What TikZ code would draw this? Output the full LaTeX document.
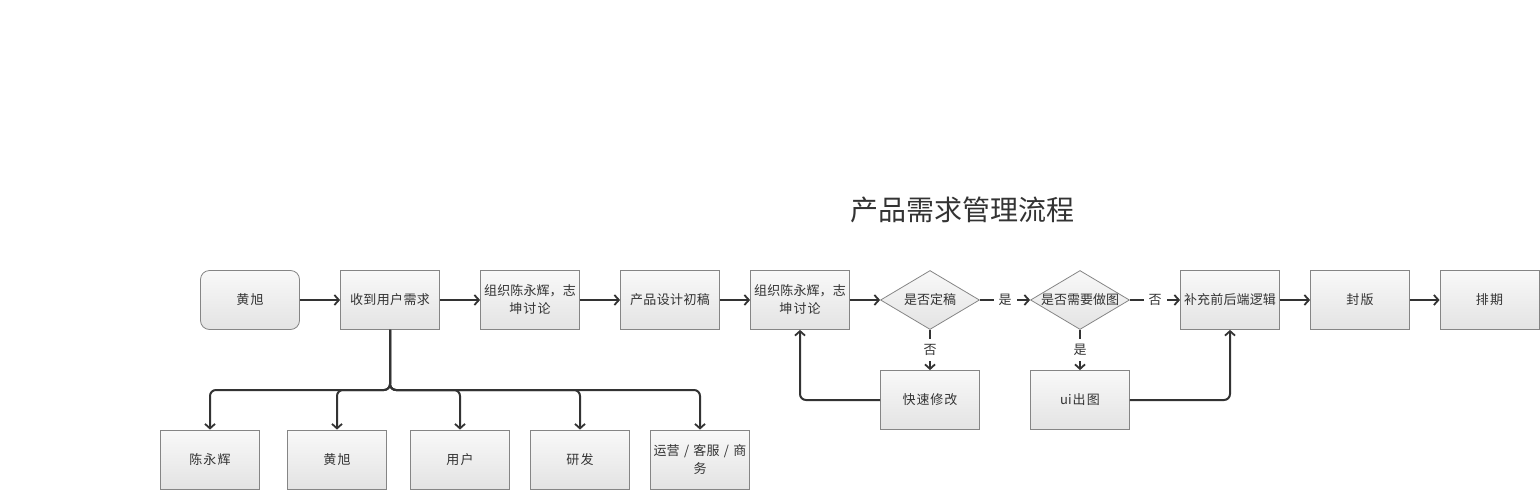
\documentclass[tikz,border=0pt]{standalone}
\usepackage{fontspec}
\setmainfont{Noto Sans CJK SC}
\XeTeXlinebreaklocale "zh"
\XeTeXlinebreakskip=0pt plus 1pt
\usetikzlibrary{arrows.meta,shapes.geometric}
\definecolor{txt}{HTML}{333333}
\definecolor{bord}{HTML}{858585}
\definecolor{ln}{HTML}{333333}
\tikzset{
  boxbase/.style={draw=bord, line width=0.8pt, top color=gray!5, bottom color=gray!22,
    minimum width=99pt, minimum height=59pt, inner sep=0pt, text width=99pt, align=center,
    font=\fontsize{13}{18}\selectfont, text=txt},
  stepbox/.style={boxbase, rectangle},
  roundbox/.style={boxbase, rectangle, rounded corners=9pt},
  dia/.style={draw=bord, line width=0.8pt, top color=gray!5, bottom color=gray!22,
    shape=diamond, aspect=1.6667, minimum width=99pt, minimum height=59pt, inner sep=0pt},
  dlabel/.style={font=\fontsize{13}{17}\selectfont, text=txt, inner sep=0pt},
  conn/.style={draw=ln, line width=2pt, -{Straight Barb[length=4.5pt,width=10pt,line width=1.8pt]}},
  elab/.style={fill=white, font=\fontsize{13}{17}\selectfont, text=txt, inner sep=5pt}
}
\begin{document}
\begin{tikzpicture}[x=1pt,y=-1pt]
\useasboundingbox (0,0) rectangle (1540,490);
\node[font=\fontsize{28}{32}\selectfont, text=txt] (title) at (962,210) {产品需求管理流程};
\node[roundbox] (hx) at (250,300) {黄旭};
\node[stepbox] (recv) at (390,300) {收到用户需求};
\node[stepbox] (org1) at (530,300) {组织陈永辉，志\\坤讨论};
\node[stepbox] (draft) at (670,300) {产品设计初稿};
\node[stepbox] (org2) at (800,300) {组织陈永辉，志\\坤讨论};
\node[dia, label={[dlabel]center:是否定稿}] (d1) at (930,300) {};
\node[dia, label={[dlabel]center:是否需要做图}] (d2) at (1080,300) {};
\node[stepbox] (logic) at (1230,300) {补充前后端逻辑};
\node[stepbox] (seal) at (1360,300) {封版};
\node[stepbox] (sched) at (1489.5,300) {排期};
\node[stepbox] (quick) at (930,400) {快速修改};
\node[stepbox] (ui) at (1080,400) {ui出图};
\node[stepbox] (c1) at (210,459.5) {陈永辉};
\node[stepbox] (c2) at (337,459.5) {黄旭};
\node[stepbox] (c3) at (460,459.5) {用户};
\node[stepbox] (c4) at (580,459.5) {研发};
\node[stepbox] (c5) at (700,459.5) {运营 / 客服 / 商\\务};
\coordinate (jn) at (390,390);

\draw[conn] (hx) -- (recv);
\draw[conn] (recv) -- (org1);
\draw[conn] (org1) -- (draft);
\draw[conn] (draft) -- (org2);
\draw[conn] (org2) -- (d1);
\draw[conn] (d1.east) -- node[elab] {是} (d2.west);
\draw[conn] (d2.east) -- node[elab] {否} (logic.west);
\draw[conn] (logic) -- (seal);
\draw[conn] (seal) -- (sched);
\draw[conn] (d1.south) -- node[elab] {否} (quick.north);
\draw[conn] (d2.south) -- node[elab] {是} (ui.north);
\draw[conn, rounded corners=6pt] (quick.west) -| (org2.south);
\draw[conn, rounded corners=6pt] (ui.east) -| (logic.south);
\foreach \c in {c1,c2,c3,c4,c5}
  \draw[conn, rounded corners=6pt] (recv.south) -- (jn) -| (\c.north);
\end{tikzpicture}
\end{document}
